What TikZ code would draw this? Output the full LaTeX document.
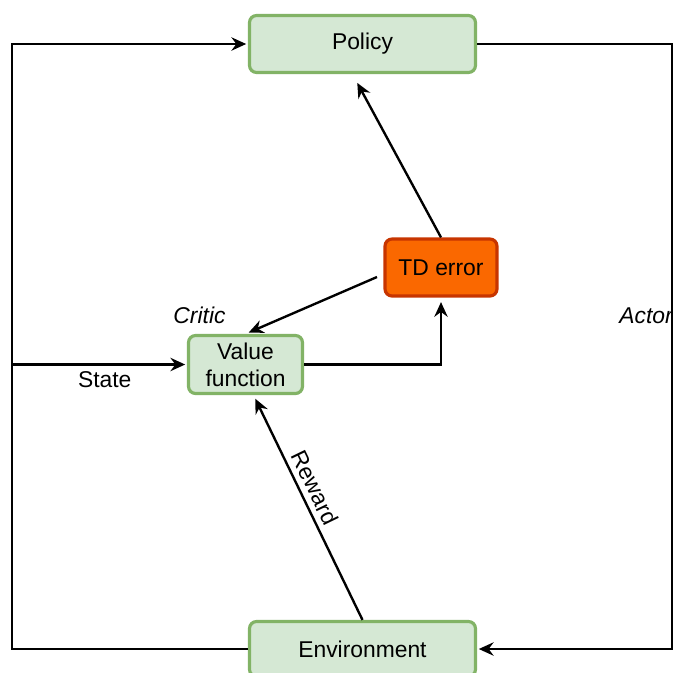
\documentclass[tikz,border=0pt]{standalone}
\usepackage{fontspec}
\setmainfont{Liberation Sans}
\usetikzlibrary{arrows.meta,positioning}
\definecolor{boxgreen}{HTML}{D5E8D4}
\definecolor{edgegreen}{HTML}{82B366}
\definecolor{tdfill}{HTML}{FA6800}
\definecolor{tdedge}{HTML}{C73500}

\begin{document}
\begin{tikzpicture}[x=0.02cm, y=-0.02cm,
  box/.style={draw=edgegreen, fill=boxgreen, line width=1.8pt, rounded corners=4pt,
              align=center, font=\fontsize{13}{15.5}\selectfont, inner sep=2pt},
  tdbox/.style={box, draw=tdedge, fill=tdfill},
  arr/.style={-{Stealth[length=8.4pt, width=7.6pt, inset=2.8pt]}, line width=1.35pt},
  lbl/.style={font=\fontsize{13}{15.5}\selectfont},
  role/.style={font=\fontsize{13}{15.5}\selectfont\itshape}
]
\useasboundingbox (0,0) rectangle (673,673);
\node[box, minimum width=4.52cm, minimum height=1.14cm] (pol) at (362.5,44) {Policy};
\node[tdbox, minimum width=2.24cm, minimum height=1.14cm] (td) at (441,267.5) {TD error};
\node[box, minimum width=2.28cm, minimum height=1.16cm] (val) at (245.5,364.5) {Value\\function};
\node[box, minimum width=4.52cm, minimum height=1.1cm] (env) at (362.5,649) {Environment};
\node[role] (critic) at (199.5,315) {Critic};
\node[role] (actor) at (646,316) {Actor};

\coordinate (lb) at (12,649);
\coordinate (rb) at (672,649);
\coordinate (tdout) at (377,277);

\draw[arr, shorten >=1pt] (env.west) -- (lb) |- (pol.west);
\draw[arr, shorten >=1pt] (lb |- val.west) -- node[lbl, below, pos=0.53] (state) {State} (val.west);
\draw[arr, shorten >=1pt] (pol.east) -| (rb) -- (env.east);
\draw[arr, shorten >=0.2cm] (td.north) -- ([xshift=-0.2cm]pol.south);
\draw[arr, shorten >=2pt] (tdout) -- (val.north);
\draw[arr, shorten >=0.09cm] (val.east) -| (td.south);
\draw[arr, shorten >=0.08cm] (env.north) -- node[lbl, sloped, above, pos=0.56, inner sep=3pt] (reward) {Reward} ([xshift=0.16cm]val.south);
\end{tikzpicture}
\end{document}
